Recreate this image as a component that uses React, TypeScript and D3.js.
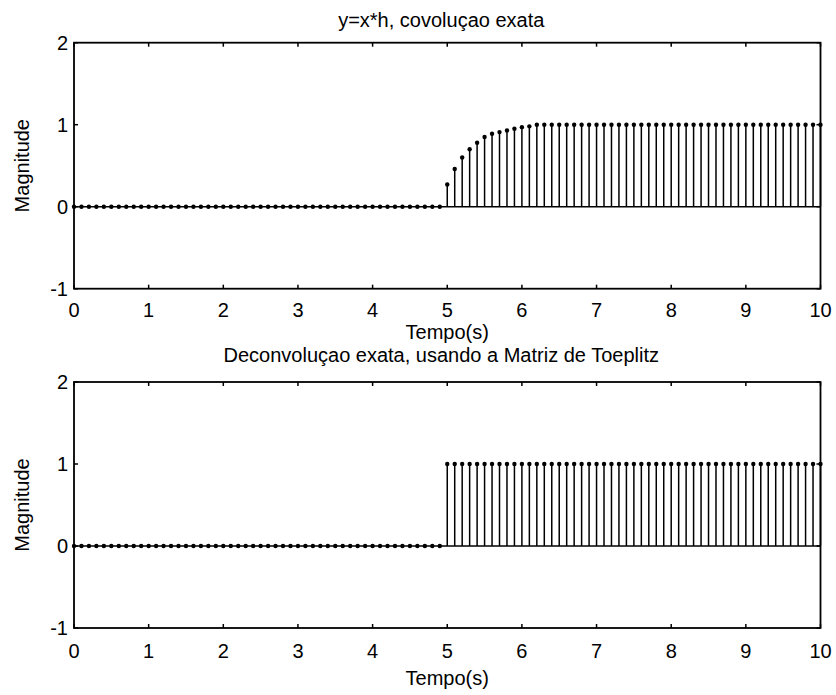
import React from "react";
import * as d3 from "d3";

// Sample times: 0 to 10 s in steps of 0.1 s
const times: number[] = d3.range(0, 101).map((i) => +(i * 0.1).toFixed(1));

// Rising part of the exact convolution y = x*h, from t = 5.0 s onward
const convRamp: number[] = [0.27, 0.46, 0.6, 0.7, 0.78, 0.85, 0.89, 0.91, 0.93, 0.95, 0.97, 0.98];

// y = x*h : zero before 5 s, ramp, then settles at 1
const convValues: number[] = times.map((t, i) => {
  if (t < 5) return 0;
  const k = i - 50;
  return k < convRamp.length ? convRamp[k] : 1;
});

// Deconvolved signal (unit step at 5 s)
const deconvValues: number[] = times.map((t) => (t < 5 ? 0 : 1));

const xTicks: number[] = d3.range(0, 11);
const yTicks: number[] = [-1, 0, 1, 2];

const titles: string[] = ["y=x*h, covoluçao exata", "Deconvoluçao exata, usando a Matriz de Toeplitz"];
const xLabel = "Tempo(s)";
const yLabel = "Magnitude";

const FONT = "'Liberation Sans', Arial, Helvetica, sans-serif";
const FS = 20;

type PanelProps = {
  top: number;
  bottom: number;
  values: number[];
  title: string;
  titleGap: number;
  tickGap: number;
  xLabelGap: number;
};

const LEFT = 74;
const RIGHT = 820.5;

function Panel({ top, bottom, values, title, titleGap, tickGap, xLabelGap }: PanelProps) {
  const x = d3.scaleLinear().domain([0, 10]).range([LEFT, RIGHT]);
  const y = d3.scaleLinear().domain([-1, 2]).range([bottom, top]);
  const tickLen = 4;
  const cx = (LEFT + RIGHT) / 2;
  return (
    <g>
      {/* title */}
      <text x={cx - 6} y={top - titleGap} textAnchor="middle" fontSize={FS} fontFamily={FONT}>
        {title}
      </text>
      {/* baseline */}
      <line x1={x(0)} x2={x(10)} y1={y(0)} y2={y(0)} stroke="#000" strokeWidth={1.6} />
      {/* stems */}
      {times.map((t, i) =>
        values[i] !== 0 ? (
          <line key={"s" + i} x1={x(t)} x2={x(t)} y1={y(0)} y2={y(values[i])} stroke="#000" strokeWidth={1.5} />
        ) : null
      )}
      {/* markers */}
      {times.map((t, i) => (
        <circle key={"m" + i} cx={x(t)} cy={y(values[i])} r={2.2} fill="#000" />
      ))}
      {/* axes box */}
      <rect x={LEFT} y={top} width={RIGHT - LEFT} height={bottom - top} fill="none" stroke="#000" strokeWidth={1.8} />
      {/* x ticks */}
      {xTicks.map((t) => (
        <g key={"xt" + t}>
          <line x1={x(t)} x2={x(t)} y1={bottom} y2={bottom - tickLen} stroke="#000" strokeWidth={1.5} />
          <line x1={x(t)} x2={x(t)} y1={top} y2={top + tickLen} stroke="#000" strokeWidth={1.5} />
          <text x={x(t)} y={bottom + tickGap} textAnchor="middle" fontSize={FS} fontFamily={FONT}>
            {t}
          </text>
        </g>
      ))}
      {/* y ticks */}
      {yTicks.map((v) => (
        <g key={"yt" + v}>
          <line x1={LEFT} x2={LEFT + tickLen} y1={y(v)} y2={y(v)} stroke="#000" strokeWidth={1.5} />
          <line x1={RIGHT} x2={RIGHT - tickLen} y1={y(v)} y2={y(v)} stroke="#000" strokeWidth={1.5} />
          <text x={LEFT - 6} y={y(v) + 7} textAnchor="end" fontSize={FS} fontFamily={FONT}>
            {v}
          </text>
        </g>
      ))}
      {/* axis labels */}
      <text x={cx} y={bottom + xLabelGap} textAnchor="middle" fontSize={FS} fontFamily={FONT}>
        {xLabel}
      </text>
      <text
        transform={`translate(${29},${(top + bottom) / 2}) rotate(-90)`}
        textAnchor="middle"
        fontSize={FS}
        fontFamily={FONT}
      >
        {yLabel}
      </text>
    </g>
  );
}

export default function App() {
  return (
    <svg width={836} height={695} style={{ position: "absolute", left: 0, top: 0, background: "#fff" }}>
      <rect width={836} height={695} fill="#fff" />
      <Panel top={42.7} bottom={288.7} values={convValues} title={titles[0]} titleGap={16} tickGap={28} xLabelGap={50} />
      <Panel top={382} bottom={628} values={deconvValues} title={titles[1]} titleGap={20} tickGap={30} xLabelGap={57} />
    </svg>
  );
}
